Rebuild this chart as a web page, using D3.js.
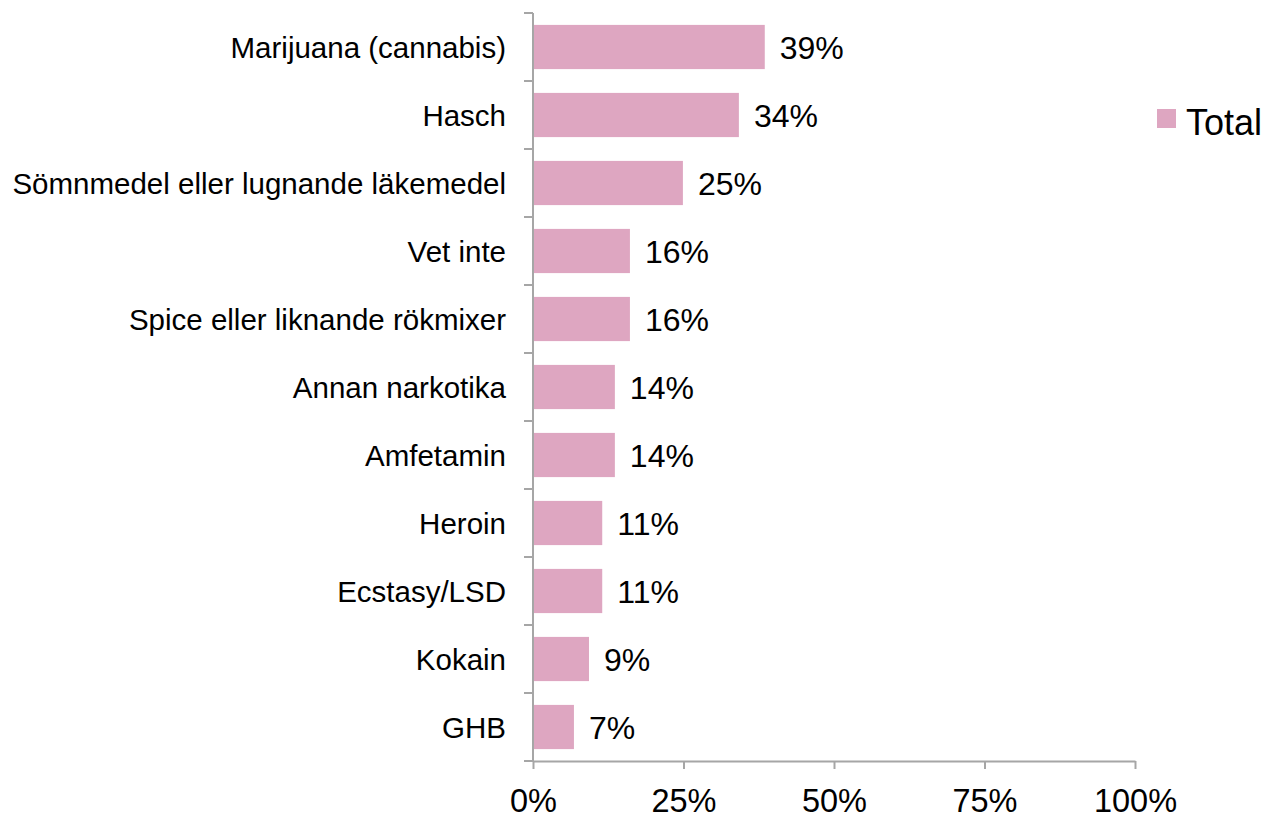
<!DOCTYPE html>
<html>
<head>
<meta charset="utf-8">
<script src="https://cdn.jsdelivr.net/npm/d3@7"></script>
<style>
  body { margin: 0; background: #fff; }
  svg { display: block; font-family: "Liberation Sans", Arial, sans-serif; }
</style>
</head>
<body>
<svg id="chart" width="1265" height="819"></svg>
<script>
const categories = [
  "Marijuana (cannabis)",
  "Hasch",
  "Sömnmedel eller lugnande läkemedel",
  "Vet inte",
  "Spice eller liknande rökmixer",
  "Annan narkotika",
  "Amfetamin",
  "Heroin",
  "Ecstasy/LSD",
  "Kokain",
  "GHB"
];
const values = [0.385, 0.342, 0.249, 0.161, 0.161, 0.136, 0.136, 0.115, 0.115, 0.093, 0.068];
const valueLabels = ["39%", "34%", "25%", "16%", "16%", "14%", "14%", "11%", "11%", "9%", "7%"];
const xTicks = [0, 0.25, 0.5, 0.75, 1];
const seriesName = "Total";

const barColor = "#dea6c1";
const axisColor = "#a6a6a6";

const svg = d3.select("#chart");
const x = d3.scaleLinear().domain([0, 1]).range([533, 1135]);
const y = d3.scaleBand().domain(categories).range([13, 761]).paddingInner(0.35).paddingOuter(0.175);

// bars
svg.append("g").selectAll("rect").data(categories).join("rect")
  .attr("x", x(0))
  .attr("y", d => y(d))
  .attr("width", (d, i) => x(values[i]) - x(0))
  .attr("height", y.bandwidth())
  .attr("fill", barColor);

// x axis
const xAxis = svg.append("g")
  .attr("transform", "translate(0,761)")
  .call(d3.axisBottom(x).tickValues(xTicks).tickSize(8).tickSizeOuter(0).tickPadding(20)
    .tickFormat(d3.format(".0%")));
xAxis.selectAll("path, line").attr("stroke", axisColor).attr("stroke-width", 2);
xAxis.selectAll("text").attr("font-size", 32.5).attr("fill", "#000")
  .attr("font-family", "'Liberation Sans', Arial, sans-serif");

// y axis line and boundary ticks
const step = y.step();
const boundaries = categories.map(c => y(c) - step * y.paddingInner() / 2);
boundaries.push(761);
const yAxis = svg.append("g");
yAxis.append("line")
  .attr("x1", x(0)).attr("x2", x(0))
  .attr("y1", 13).attr("y2", 761)
  .attr("stroke", axisColor).attr("stroke-width", 2);
yAxis.selectAll("line.tick").data(boundaries).join("line")
  .attr("class", "tick")
  .attr("x1", x(0) - 9).attr("x2", x(0))
  .attr("y1", d => d).attr("y2", d => d)
  .attr("stroke", axisColor).attr("stroke-width", 2);

// category labels
svg.append("g").selectAll("text").data(categories).join("text")
  .attr("x", 506)
  .attr("y", d => y(d) + y.bandwidth() / 2)
  .attr("dy", "0.36em")
  .attr("text-anchor", "end")
  .attr("font-size", 29.5)
  .attr("fill", "#000")
  .text(d => d);

// value labels
svg.append("g").selectAll("text").data(categories).join("text")
  .attr("x", (d, i) => x(values[i]) + 15)
  .attr("y", d => y(d) + y.bandwidth() / 2)
  .attr("dy", "0.36em")
  .attr("font-size", 32)
  .attr("fill", "#000")
  .text((d, i) => valueLabels[i]);

// legend
const legend = svg.append("g");
legend.append("rect").attr("x", 1157).attr("y", 109).attr("width", 19).attr("height", 19).attr("fill", barColor);
legend.append("text").attr("x", 1186).attr("y", 135).attr("font-size", 36).attr("fill", "#000").text(seriesName);
</script>
</body>
</html>
